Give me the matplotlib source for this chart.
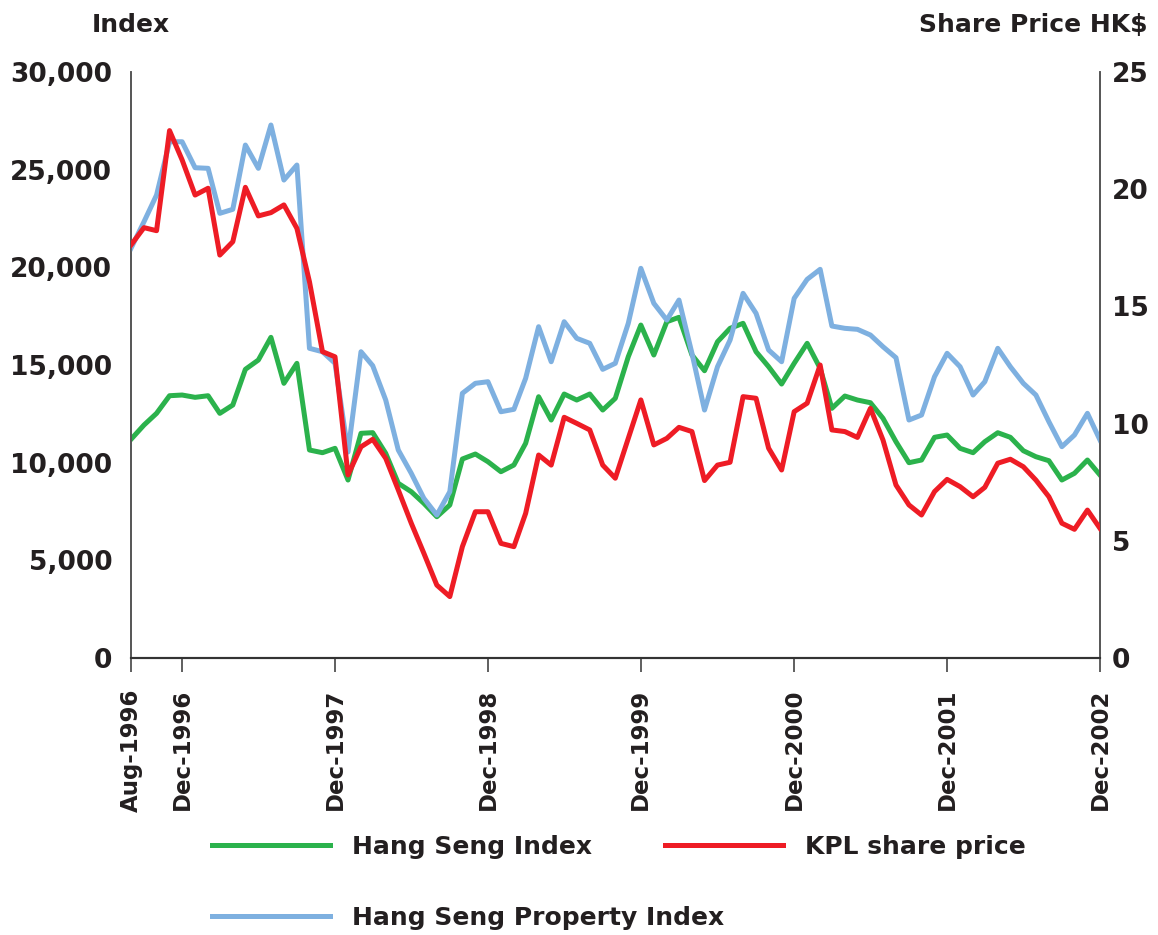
import numpy as np
import pandas as pd
import matplotlib
matplotlib.use("Agg")
import matplotlib.pyplot as plt
from matplotlib.ticker import FuncFormatter

# monthly data, Aug-1996 .. Dec-2002
months = pd.date_range("1996-08-01", "2002-12-01", freq="MS")

hang_seng = [
    11195, 11927, 12525, 13427, 13463, 13345, 13427, 12525, 12951, 14778,
    15255, 16417, 14062, 15086, 10648, 10510, 10734, 9112, 11502, 11536,
    10478, 8943, 8513, 7919, 7233, 7832, 10187, 10443, 10049, 9537,
    9880, 10990, 13376, 12183, 13514, 13207, 13514, 12695, 13294, 15424,
    17046, 15511, 17216, 17441, 15511, 14707, 16191, 16877, 17133, 15680,
    14912, 14026, 15086, 16110, 14830, 12782, 13412, 13207, 13069, 12270,
    11073, 9998, 10136, 11298, 11415, 10734, 10510, 11073, 11533, 11298,
    10612, 10305, 10100, 9112, 9455, 10136, 9368,
]

hs_property = [
    20973, 22335, 23702, 26430, 26430, 25100, 25068, 22765, 22970, 26261,
    25068, 27285, 24469, 25237, 15854, 15680, 15086, 10545, 15680, 14963,
    13207, 10648, 9455, 8175, 7320, 8513, 13550, 14062, 14144, 12608,
    12731, 14318, 16960, 15168, 17216, 16366, 16110, 14778, 15086, 17133,
    19949, 18157, 17302, 18326, 15598, 12695, 14912, 16278, 18669, 17645,
    15767, 15168, 18413, 19386, 19898, 16995, 16877, 16826, 16535, 15936,
    15373, 12183, 12439, 14400, 15598, 14912, 13463, 14144, 15854, 14912,
    14062, 13463, 12096, 10817, 11415, 12526, 11159,
]

kpl_price = [
    17.62, 18.36, 18.23, 22.50, 21.25, 19.75, 20.04, 17.19, 17.76, 20.08,
    18.86, 19.00, 19.33, 18.33, 16.05, 13.07, 12.85, 7.81, 9.01, 9.33,
    8.52, 7.17, 5.75, 4.47, 3.11, 2.62, 4.75, 6.24, 6.24, 4.89,
    4.75, 6.17, 8.66, 8.23, 10.27, 10.01, 9.73, 8.23, 7.67, 9.37,
    11.01, 9.09, 9.37, 9.84, 9.66, 7.57, 8.23, 8.35, 11.15, 11.08,
    8.95, 8.02, 10.51, 10.87, 12.50, 9.73, 9.66, 9.41, 10.65, 9.30,
    7.38, 6.53, 6.10, 7.10, 7.62, 7.31, 6.88, 7.28, 8.31, 8.48,
    8.16, 7.59, 6.88, 5.75, 5.49, 6.31, 5.53,
]

tick_dates = pd.to_datetime(["1996-08-01", "1996-12-01", "1997-12-01", "1998-12-01",
                             "1999-12-01", "2000-12-01", "2001-12-01", "2002-12-01"])
tick_labels = ["Aug-1996", "Dec-1996", "Dec-1997", "Dec-1998",
               "Dec-1999", "Dec-2000", "Dec-2001", "Dec-2002"]

GREEN = "#2bb24c"
RED = "#ee1c25"
BLUE = "#7eb0e0"
TXT = "#231f20"

plt.rcParams["font.family"] = "DejaVu Sans"
plt.rcParams["font.weight"] = "bold"

W, H = 1158, 935
fig = plt.figure(figsize=(W / 100, H / 100), dpi=100)
ax = fig.add_axes([131 / W, 1 - 658 / H, (1100 - 131) / W, (658 - 72) / H])
ax2 = ax.twinx()

lw = 3.6
l_hsi, = ax.plot(months, hang_seng, color=GREEN, lw=lw, zorder=2)
l_prop, = ax.plot(months, hs_property, color=BLUE, lw=lw, zorder=3)
l_kpl, = ax2.plot(months, kpl_price, color=RED, lw=lw, zorder=4)

ax.set_xlim(months[0], months[-1])
ax.set_ylim(0, 30000)
ax2.set_ylim(0, 25)
ax.set_yticks(np.arange(0, 30001, 5000))
ax2.set_yticks(np.arange(0, 26, 5))
ax.yaxis.set_major_formatter(FuncFormatter(lambda v, p: f"{int(v):,}"))

ax.set_xticks(tick_dates)
ax.set_xticklabels(tick_labels, rotation=90, fontsize=16.5, fontweight="bold", color=TXT)
ax.tick_params(axis="x", direction="out", length=10, width=1.2, color="#444444", pad=12)
ax.tick_params(axis="y", length=0, pad=13.5, labelsize=19, labelcolor=TXT)
ax2.tick_params(axis="y", length=0, pad=8.5, labelsize=19, labelcolor=TXT)
for lab in ax.get_yticklabels() + ax2.get_yticklabels():
    lab.set_fontweight("bold")

for a in (ax, ax2):
    a.spines["top"].set_visible(False)
    a.spines["left"].set_color("#555555")
    a.spines["right"].set_color("#555555")
    a.spines["bottom"].set_color("#333333")
    a.spines["left"].set_linewidth(1.2)
    a.spines["right"].set_linewidth(1.2)
    a.spines["bottom"].set_linewidth(1.5)

fig.text(92 / W, 1 - 25 / H, "Index", fontsize=18, fontweight="bold", color=TXT,
         ha="left", va="center")
fig.text(1148 / W, 1 - 25 / H, "Share Price HK$", fontsize=18, fontweight="bold",
         color=TXT, ha="right", va="center")

leg_kw = dict(frameon=False, loc="center left", borderaxespad=0, borderpad=0,
              handlelength=4.7, handletextpad=0.9,
              prop={"size": 18, "weight": "bold"})
for line, label, x, y in [(l_hsi, "Hang Seng Index", 212, 847),
                          (l_kpl, "KPL share price", 665, 847),
                          (l_prop, "Hang Seng Property Index", 212, 918)]:
    lg = fig.legend([line], [label], bbox_to_anchor=(x / W, 1 - y / H), **leg_kw)
    for t in lg.get_texts():
        t.set_color(TXT)

fig.savefig("out.png", dpi=100)
